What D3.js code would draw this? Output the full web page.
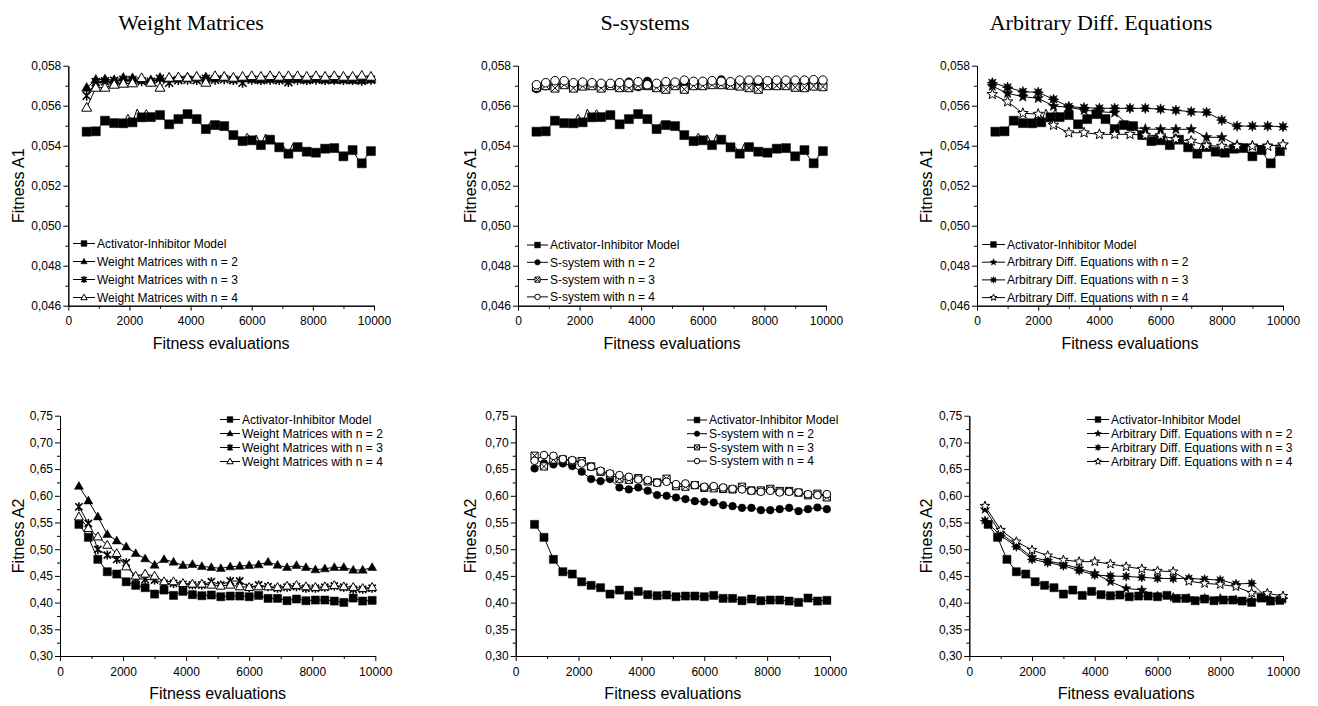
<!DOCTYPE html>
<html>
<head>
<meta charset="utf-8">
<script src="https://cdn.jsdelivr.net/npm/d3@7"></script>
<style>
  body { margin: 0; background: #fff; }
  svg { display: block; }
  .tick text { font-family: "Liberation Sans", Arial, sans-serif; font-size: 12px; fill: #000; }
  .domain, .tick line { stroke: #000; stroke-width: 1; }
  .legend text { font-family: "Liberation Sans", Arial, sans-serif; font-size: 12px; fill: #000; }
  .atitle { font-family: "Liberation Sans", Arial, sans-serif; font-size: 16px; fill: #000; }
  .ptitle { font-family: "Liberation Serif", "Times New Roman", serif; font-size: 22px; fill: #000; }
</style>
</head>
<body>
<svg id="chart" width="1318" height="706"></svg>
<script>
// ---- data ----
const methods = ["Weight Matrices", "S-systems", "Arbitrary Diff. Equations"];
const legendNames = [
  ["Activator-Inhibitor Model", "Weight Matrices with n = 2", "Weight Matrices with n = 3", "Weight Matrices with n = 4"],
  ["Activator-Inhibitor Model", "S-system with n = 2", "S-system with n = 3", "S-system with n = 4"],
  ["Activator-Inhibitor Model", "Arbitrary Diff. Equations with n = 2", "Arbitrary Diff. Equations with n = 3", "Arbitrary Diff. Equations with n = 4"]
];
const xTicks = [0, 2000, 4000, 6000, 8000, 10000];
const xMinor = [1000, 3000, 5000, 7000, 9000];
const a1Ticks = [0.046, 0.048, 0.050, 0.052, 0.054, 0.056, 0.058];
const a1Minor = [0.047, 0.049, 0.051, 0.053, 0.055, 0.057];
const a2Ticks = [0.30, 0.35, 0.40, 0.45, 0.50, 0.55, 0.60, 0.65, 0.70, 0.75];
const a2Minor = [0.325, 0.375, 0.425, 0.475, 0.525, 0.575, 0.625, 0.675, 0.725];

const evals150 = [600, 750, 900, 1050, 1200, 1350, 1500, 1650, 1800, 1950, 2100, 2250, 2400, 2550, 2700, 2850,
  3000, 3150, 3300, 3450, 3600, 3750, 3900, 4050, 4200, 4350, 4500, 4650, 4800, 4950, 5100, 5250, 5400, 5550,
  5700, 5850, 6000, 6150, 6300, 6450, 6600, 6750, 6900, 7050, 7200, 7350, 7500, 7650, 7800, 7950, 8100, 8250,
  8400, 8550, 8700, 8850, 9000, 9150, 9300, 9450, 9600, 9750, 9900];
const evals300 = [600, 900, 1200, 1500, 1800, 2100, 2400, 2700, 3000, 3300, 3600, 3900, 4200, 4500, 4800, 5100,
  5400, 5700, 6000, 6300, 6600, 6900, 7200, 7500, 7800, 8100, 8400, 8700, 9000, 9300, 9600, 9900];
const evals500 = [500, 1000, 1500, 2000, 2500, 3000, 3500, 4000, 4500, 5000, 5500, 6000, 6500, 7000, 7500, 8000,
  8500, 9000, 9500, 10000];

// Activator-Inhibitor model (same in every panel)
const activatorA1 = [0.05470, 0.05468, 0.05472, 0.05500, 0.05525, 0.05515, 0.05513, 0.05515, 0.05512, 0.05557,
  0.05517, 0.05583, 0.05542, 0.05580, 0.05543, 0.05545, 0.05553, 0.05530, 0.05507, 0.05525,
  0.05533, 0.05545, 0.05558, 0.05540, 0.05533, 0.05505, 0.05483, 0.05520, 0.05503, 0.05505,
  0.05498, 0.05470, 0.05453, 0.05440, 0.05423, 0.05462, 0.05427, 0.05453, 0.05403, 0.05458,
  0.05430, 0.05420, 0.05392, 0.05395, 0.05360, 0.05412, 0.05393, 0.05395, 0.05370, 0.05385,
  0.05365, 0.05378, 0.05385, 0.05382, 0.05388, 0.05365, 0.05347, 0.05362, 0.05378, 0.05340,
  0.05312, 0.05345, 0.05373];
const activatorA2 = [0.5465, 0.5222, 0.4810, 0.4578, 0.4535, 0.4390, 0.4323, 0.4279, 0.4160, 0.4235, 0.4135,
  0.4210, 0.4148, 0.4129, 0.4142, 0.4110, 0.4123, 0.4123, 0.4110, 0.4135, 0.4079, 0.4079, 0.4035, 0.4067,
  0.4035, 0.4048, 0.4048, 0.4029, 0.4004, 0.4085, 0.4029, 0.4042];

// Weight Matrices
const wmA1n2 = [0.05690, 0.05730, 0.05732, 0.05728, 0.05740, 0.05738, 0.05730, 0.05728, 0.05740, 0.05735,
  0.05738, 0.05742, 0.05740, 0.05742, 0.05738, 0.05742, 0.05735, 0.05738, 0.05735, 0.05732, 0.05735, 0.05735,
  0.05732, 0.05735, 0.05732, 0.05735, 0.05732, 0.05730, 0.05732, 0.05730, 0.05728, 0.05732];
const wmA1n3 = [0.05650, 0.05718, 0.05722, 0.05725, 0.05730, 0.05728, 0.05722, 0.05720, 0.05735, 0.05715,
  0.05728, 0.05730, 0.05728, 0.05735, 0.05730, 0.05732, 0.05728, 0.05715, 0.05730, 0.05728, 0.05730, 0.05728,
  0.05718, 0.05730, 0.05728, 0.05730, 0.05728, 0.05730, 0.05728, 0.05728, 0.05725, 0.05730];
const wmA1n4 = [0.05590, 0.05690, 0.05690, 0.05705, 0.05710, 0.05712, 0.05738, 0.05715, 0.05690, 0.05740,
  0.05742, 0.05740, 0.05745, 0.05715, 0.05748, 0.05745, 0.05740, 0.05745, 0.05748, 0.05745, 0.05748, 0.05745,
  0.05748, 0.05748, 0.05745, 0.05748, 0.05745, 0.05748, 0.05745, 0.05745, 0.05750, 0.05745];
const wmA2n2 = [0.6180, 0.5906, 0.5607, 0.5277, 0.5158, 0.5046, 0.4921, 0.4822, 0.4703, 0.4809, 0.4760,
  0.4697, 0.4716, 0.4678, 0.4660, 0.4641, 0.4672, 0.4684, 0.4697, 0.4710, 0.4760, 0.4703, 0.4660, 0.4697,
  0.4660, 0.4616, 0.4635, 0.4660, 0.4660, 0.4610, 0.4610, 0.4660];
const wmA2n3 = [0.5794, 0.5482, 0.4996, 0.4890, 0.4809, 0.4747, 0.4454, 0.4435, 0.4423, 0.4360, 0.4360,
  0.4342, 0.4330, 0.4330, 0.4392, 0.4330, 0.4404, 0.4404, 0.4285, 0.4330, 0.4298, 0.4267, 0.4287, 0.4299,
  0.4268, 0.4268, 0.4287, 0.4311, 0.4287, 0.4249, 0.4249, 0.4268];
const wmA2n4 = [0.5607, 0.5389, 0.5233, 0.5077, 0.4921, 0.4672, 0.4498, 0.4536, 0.4498, 0.4393, 0.4393,
  0.4361, 0.4349, 0.4349, 0.4330, 0.4311, 0.4330, 0.4299, 0.4287, 0.4299, 0.4299, 0.4287, 0.4311, 0.4324,
  0.4299, 0.4287, 0.4299, 0.4324, 0.4299, 0.4287, 0.4268, 0.4287];

// S-systems
const ssA1n2 = [0.05685, 0.05700, 0.05705, 0.05712, 0.05700, 0.05705, 0.05708, 0.05705, 0.05702, 0.05715,
  0.05718, 0.05695, 0.05722, 0.05705, 0.05708, 0.05705, 0.05712, 0.05705, 0.05710, 0.05712, 0.05730, 0.05712,
  0.05705, 0.05712, 0.05710, 0.05712, 0.05715, 0.05712, 0.05712, 0.05710, 0.05715, 0.05705];
const ssA1n3 = [0.05692, 0.05700, 0.05688, 0.05705, 0.05688, 0.05698, 0.05700, 0.05688, 0.05700, 0.05690,
  0.05690, 0.05700, 0.05700, 0.05690, 0.05682, 0.05700, 0.05682, 0.05700, 0.05700, 0.05705, 0.05705, 0.05702,
  0.05698, 0.05690, 0.05682, 0.05700, 0.05700, 0.05700, 0.05692, 0.05690, 0.05698, 0.05695];
const ssA1n4 = [0.05705, 0.05715, 0.05725, 0.05725, 0.05715, 0.05718, 0.05715, 0.05712, 0.05712, 0.05715,
  0.05712, 0.05720, 0.05705, 0.05712, 0.05720, 0.05718, 0.05728, 0.05722, 0.05722, 0.05725, 0.05722, 0.05720,
  0.05728, 0.05728, 0.05728, 0.05725, 0.05728, 0.05728, 0.05728, 0.05728, 0.05730, 0.05728];
const ssA2n2 = [0.6512, 0.6606, 0.6588, 0.6606, 0.6556, 0.6450, 0.6313, 0.6275, 0.6313, 0.6156, 0.6119,
  0.6156, 0.6094, 0.6013, 0.6000, 0.5969, 0.5938, 0.5900, 0.5888, 0.5875, 0.5825, 0.5806, 0.5775, 0.5775,
  0.5731, 0.5731, 0.5750, 0.5775, 0.5713, 0.5750, 0.5781, 0.5750];
const ssA2n3 = [0.675, 0.655, 0.668, 0.668, 0.665, 0.665, 0.655, 0.645, 0.640, 0.632, 0.630, 0.633, 0.627,
  0.625, 0.632, 0.618, 0.617, 0.620, 0.615, 0.614, 0.613, 0.612, 0.617, 0.610, 0.610, 0.613, 0.609, 0.609,
  0.606, 0.601, 0.604, 0.597];
const ssA2n4 = [0.6656, 0.6763, 0.6750, 0.6688, 0.6669, 0.6606, 0.6544, 0.6469, 0.6419, 0.6388, 0.6356,
  0.6306, 0.6294, 0.6244, 0.6263, 0.6219, 0.6231, 0.6200, 0.6169, 0.6181, 0.6156, 0.6131, 0.6119, 0.6094,
  0.6075, 0.6094, 0.6063, 0.6075, 0.6063, 0.6031, 0.6013, 0.6031];

// Arbitrary Diff. Equations
const adeA1n2 = [0.05698, 0.05662, 0.05645, 0.05637, 0.05598, 0.05592, 0.05578, 0.05570, 0.05565, 0.05495,
  0.05483, 0.05482, 0.05482, 0.05482, 0.05442, 0.05442, 0.05403, 0.05400, 0.05400, 0.05403];
const adeA1n3 = [0.05715, 0.05692, 0.05670, 0.05667, 0.05632, 0.05595, 0.05590, 0.05587, 0.05587, 0.05587,
  0.05587, 0.05583, 0.05577, 0.05570, 0.05567, 0.05528, 0.05498, 0.05498, 0.05498, 0.05495];
const adeA1n4 = [0.05657, 0.05620, 0.05562, 0.05558, 0.05503, 0.05465, 0.05465, 0.05457, 0.05457, 0.05457,
  0.05453, 0.05450, 0.05433, 0.05423, 0.05400, 0.05398, 0.05398, 0.05398, 0.05398, 0.05405];
const adeA2n2 = [0.5746, 0.5297, 0.5079, 0.4850, 0.4780, 0.4720, 0.4640, 0.4548, 0.4392, 0.4267, 0.4236,
  0.4124, 0.4099, 0.4080, 0.4080, 0.4080, 0.4049, 0.4036, 0.4080, 0.4061];
const adeA2n3 = [0.5534, 0.5260, 0.5048, 0.4810, 0.4750, 0.4690, 0.4600, 0.4517, 0.4498, 0.4490, 0.4473,
  0.4455, 0.4450, 0.4455, 0.4436, 0.4423, 0.4348, 0.4361, 0.4080, 0.4080];
const adeA2n4 = [0.5809, 0.5360, 0.5141, 0.4985, 0.4879, 0.4798, 0.4767, 0.4767, 0.4723, 0.4673, 0.4630,
  0.4592, 0.4580, 0.4400, 0.4360, 0.4340, 0.4300, 0.4180, 0.4174, 0.4124];

// ---- markers ----
function starPath(r, n, inner) {
  const pts = [];
  for (let i = 0; i < 2 * n; i++) {
    const rr = i % 2 ? r * inner : r;
    const a = Math.PI * i / n - Math.PI / 2;
    pts.push([(rr * Math.cos(a)).toFixed(2), (rr * Math.sin(a)).toFixed(2)]);
  }
  return "M" + pts.map(p => p.join(",")).join("L") + "Z";
}
const circ = r => `M${r},0A${r},${r} 0 1,1 ${-r},0A${r},${r} 0 1,1 ${r},0Z`;
const shapes = {
  square:     { d: r => `M${-r * 0.9},${-r * 0.9}H${r * 0.9}V${r * 0.9}H${-r * 0.9}Z`, fill: "#000", sw: 0.5 },
  triFilled:  { d: r => `M0,${-r * 1.05}L${r},${r * 0.7}L${-r},${r * 0.7}Z`, fill: "#000", sw: 0.5 },
  triOpen:    { d: r => `M0,${-r * 1.05}L${r},${r * 0.7}L${-r},${r * 0.7}Z`, fill: "#fff", sw: 1 },
  asterisk:   { d: r => `M${-r * 0.8},${-r * 0.8}L${r * 0.8},${r * 0.8}M${r * 0.8},${-r * 0.8}L${-r * 0.8},${r * 0.8}M0,${-r}V${r}`, fill: "none", sw: 1.6 },
  dotFilled:  { d: r => circ(r * 0.85), fill: "#000", sw: 0.5 },
  crossSq:    { d: r => { const h = r * 0.8; return `M${-h},${-h}H${h}V${h}H${-h}ZM${-h},${-h}L${h},${h}M${h},${-h}L${-h},${h}`; }, fill: "#fff", sw: 1 },
  dotOpen:    { d: r => circ(r * 0.85), fill: "#fff", sw: 1 },
  starFilled: { d: r => starPath(r * 1.1, 5, 0.42), fill: "#000", sw: 0.5 },
  star8:      { d: r => starPath(r * 1.05, 8, 0.5), fill: "#000", sw: 0.6 },
  starOpen:   { d: r => starPath(r * 1.1, 5, 0.42), fill: "#fff", sw: 1 }
};

// ---- panel layout ----
const boxes = [
  [{ x0: 68.3, x1: 374, y0: 65.7, y1: 305.7 }, { x0: 60, x1: 375.3, y0: 415.7, y1: 656 }],
  [{ x0: 518, x1: 826, y0: 65.7, y1: 305.7 }, { x0: 515.7, x1: 830, y0: 415.7, y1: 656 }],
  [{ x0: 977, x1: 1283, y0: 65.7, y1: 305.7 }, { x0: 969.3, x1: 1283, y0: 415.7, y1: 656 }]
];
const legendPos = [
  [{ x: 73, len: 22, y: 243.5, dy: 18 }, { x: 220, len: 20, y: 419.5, dy: 14 }],
  [{ x: 527, len: 21, y: 245, dy: 17.3 }, { x: 687, len: 20, y: 420, dy: 13.7 }],
  [{ x: 982, len: 23, y: 244.5, dy: 17.7 }, { x: 1087, len: 22, y: 419.5, dy: 14 }]
];
const titleX = [191, 645, 1101];
const yTitleX = [24, 476, 932];

const seriesShapes = [
  ["square", "triFilled", "asterisk", "triOpen"],
  ["square", "dotFilled", "crossSq", "dotOpen"],
  ["square", "starFilled", "star8", "starOpen"]
];
const methodData = [
  { evals: evals300, a1: [wmA1n2, wmA1n3, wmA1n4], a2: [wmA2n2, wmA2n3, wmA2n4] },
  { evals: evals300, a1: [ssA1n2, ssA1n3, ssA1n4], a2: [ssA2n2, ssA2n3, ssA2n4] },
  { evals: evals500, a1: [adeA1n2, adeA1n3, adeA1n4], a2: [adeA2n2, adeA2n3, adeA2n4] }
];

const svg = d3.select("#chart");
const comma = digits => d => d3.format("." + digits + "f")(d).replace(".", ",");

function drawMarker(g, shapeKey, cx, cy, r) {
  const s = shapes[shapeKey];
  g.append("path")
    .attr("d", s.d(r))
    .attr("transform", `translate(${cx},${cy})`)
    .attr("fill", s.fill)
    .attr("stroke", "#000")
    .attr("stroke-width", s.sw)
    .attr("stroke-linejoin", "miter");
}

methods.forEach((title, mi) => {
  svg.append("text").attr("class", "ptitle")
    .attr("x", titleX[mi]).attr("y", 30).attr("text-anchor", "middle").text(title);

  [0, 1].forEach(row => {
    const box = boxes[mi][row];
    const isA1 = row === 0;
    const x = d3.scaleLinear().domain([0, 10000]).range([box.x0, box.x1]);
    const y = d3.scaleLinear().domain(isA1 ? [0.046, 0.058] : [0.30, 0.75]).range([box.y1, box.y0]);
    const g = svg.append("g");

    // axes
    g.append("g").attr("transform", `translate(0,${box.y1})`)
      .call(d3.axisBottom(x).tickValues(xMinor).tickSize(3).tickSizeOuter(0).tickFormat(""));
    g.append("g").attr("transform", `translate(0,${box.y1})`)
      .call(d3.axisBottom(x).tickValues(xTicks).tickSize(5).tickSizeOuter(0).tickPadding(6).tickFormat(d3.format("d")));
    g.append("g").attr("transform", `translate(${box.x0},0)`)
      .call(d3.axisLeft(y).tickValues(isA1 ? a1Minor : a2Minor).tickSize(3).tickSizeOuter(0).tickFormat(""));
    g.append("g").attr("transform", `translate(${box.x0},0)`)
      .call(d3.axisLeft(y).tickValues(isA1 ? a1Ticks : a2Ticks).tickSize(5).tickSizeOuter(0).tickPadding(2)
        .tickFormat(comma(isA1 ? 3 : 2)));

    // axis titles
    g.append("text").attr("class", "atitle")
      .attr("x", (box.x0 + box.x1) / 2).attr("y", box.y1 + 43).attr("text-anchor", "middle")
      .text("Fitness evaluations");
    g.append("text").attr("class", "atitle")
      .attr("transform", `translate(${yTitleX[mi]},${(box.y0 + box.y1) / 2}) rotate(-90)`)
      .attr("text-anchor", "middle")
      .text(isA1 ? "Fitness A1" : "Fitness A2");

    // series
    const md = methodData[mi];
    const series = [
      isA1 ? { evals: evals150, vals: activatorA1, every: 2 } : { evals: evals300, vals: activatorA2, every: 1 },
      ...(isA1 ? md.a1 : md.a2).map(v => ({ evals: md.evals, vals: v, every: 1 }))
    ];
    const line = d3.line().x(d => x(d[0])).y(d => y(d[1]));
    const mr = isA1 ? 5 : 4.5;
    series.forEach((s, si) => {
      const pts = s.evals.map((e, i) => [e, s.vals[i]]);
      g.append("path").attr("d", line(pts)).attr("fill", "none").attr("stroke", "#000").attr("stroke-width", 1);
      pts.forEach((p, i) => {
        if (i % s.every === 0) drawMarker(g, seriesShapes[mi][si], x(p[0]), y(p[1]), mr);
      });
    });

    // legend
    const lp = legendPos[mi][row];
    const lg = g.append("g").attr("class", "legend");
    legendNames[mi].forEach((name, li) => {
      const ly = lp.y + li * lp.dy;
      lg.append("line").attr("x1", lp.x).attr("x2", lp.x + lp.len).attr("y1", ly).attr("y2", ly)
        .attr("stroke", "#000").attr("stroke-width", 1);
      drawMarker(lg, seriesShapes[mi][li], lp.x + lp.len / 2, ly, 3.2);
      lg.append("text").attr("x", lp.x + lp.len + 2).attr("y", ly).attr("dy", "0.35em").text(name);
    });
  });
});
</script>
</body>
</html>
